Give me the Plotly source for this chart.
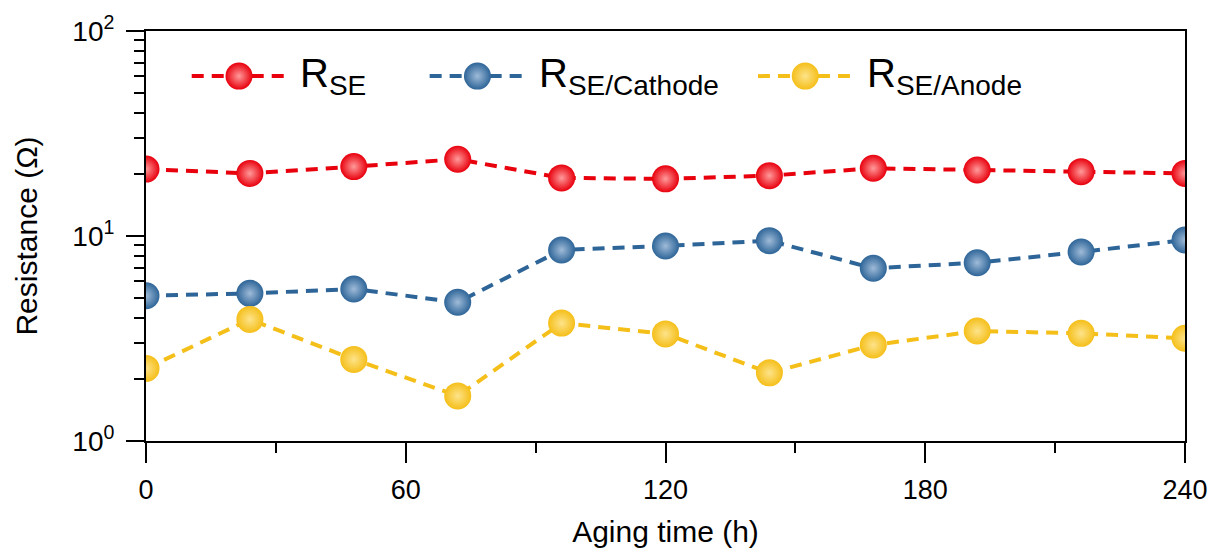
import plotly.graph_objects as go

# ---- data ----
aging_time_h = [0, 24, 48, 72, 96, 120, 144, 168, 192, 216, 240]
r_se = [21.2, 20.2, 21.8, 23.7, 19.2, 19.0, 19.7, 21.4, 21.0, 20.6, 20.2]
r_se_cathode = [5.11, 5.25, 5.51, 4.75, 8.55, 8.94, 9.49, 6.96, 7.41, 8.36, 9.56]
r_se_anode = [2.26, 3.92, 2.50, 1.66, 3.76, 3.33, 2.15, 2.94, 3.44, 3.35, 3.17]

series_names = ["R<sub>SE</sub>", "R<sub>SE/Cathode</sub>", "R<sub>SE/Anode</sub>"]
x_tickvals = [0, 60, 120, 180, 240]
x_ticktext = ["0", "60", "120", "180", "240"]
x_minor = [30, 90, 150, 210]
y_tickvals = [1, 10, 100]
y_ticktext = ["10<sup>0</sup>", "10<sup>1</sup>", "10<sup>2</sup>"]
y_minor = [2, 3, 4, 5, 6, 7, 8, 9, 20, 30, 40, 50, 60, 70, 80, 90]

# ---- styles ----
COLORS = ["#e8000d", "#2e6598", "#f5bf1a"]
HILITE = ["#ff9a9a", "#9fbbd8", "#fde38a"]
FONT = "Arial, Liberation Sans, sans-serif"
MSIZE = 27

# legend key placement (paper fraction) -- layout, not data
LEG_LINE_X = [(0.044, 0.135), (0.273, 0.365), (0.589, 0.680)]
LEG_TEXT_X = [0.146, 0.376, 0.692]
LEG_Y = 0.89

fig = go.Figure()
all_series = [r_se, r_se_cathode, r_se_anode]
for i, ys in enumerate(all_series):
    fig.add_trace(go.Scatter(
        x=aging_time_h, y=ys, mode="lines+markers", showlegend=False,
        line=dict(color=COLORS[i], width=4, dash="12px,8px"),
        marker=dict(size=MSIZE, color=COLORS[i],
                    gradient=dict(type="radial", color=HILITE[i]),
                    line=dict(width=0)),
    ))

# manual legend keys on an overlay axis (0..1)
for i in range(3):
    x0, x1 = LEG_LINE_X[i]
    fig.add_trace(go.Scatter(
        x=[x0, x1], y=[LEG_Y, LEG_Y], mode="lines", showlegend=False,
        xaxis="x2", yaxis="y2", hoverinfo="skip",
        line=dict(color=COLORS[i], width=4, dash="12px,8px"),
    ))
    fig.add_trace(go.Scatter(
        x=[(x0 + x1) / 2], y=[LEG_Y], mode="markers", showlegend=False,
        xaxis="x2", yaxis="y2", hoverinfo="skip",
        marker=dict(size=MSIZE, color=COLORS[i],
                    gradient=dict(type="radial", color=HILITE[i]),
                    line=dict(width=0)),
    ))
    fig.add_annotation(x=LEG_TEXT_X[i], y=LEG_Y, xref="paper", yref="paper",
                       text=series_names[i], showarrow=False, xanchor="left",
                       yanchor="middle", font=dict(size=40, color="black", family=FONT))

fig.update_layout(
    width=1214, height=553,
    margin=dict(l=146, r=29, t=31, b=112),
    paper_bgcolor="white", plot_bgcolor="white",
    font=dict(family=FONT, color="black", size=27),
    xaxis=dict(
        range=[0, 240], tickvals=x_tickvals, ticktext=x_ticktext,
        ticks="outside", ticklen=20, tickwidth=2, tickcolor="black",
        showline=True, linewidth=2, linecolor="black", mirror=True,
        showgrid=False, zeroline=False, automargin=False,
        minor=dict(tickvals=x_minor, ticks="outside", ticklen=10, tickwidth=2, tickcolor="black"),
        tickfont=dict(size=27), ticklabelstandoff=4,
        title=dict(text="Aging time (h)", font=dict(size=30), standoff=17),
    ),
    yaxis=dict(
        type="log", range=[0, 2], tickvals=y_tickvals, ticktext=y_ticktext,
        ticks="outside", ticklen=18, tickwidth=2, tickcolor="black",
        showline=True, linewidth=2, linecolor="black", mirror=True,
        showgrid=False, zeroline=False, automargin=False,
        minor=dict(tickvals=y_minor, ticks="outside", ticklen=10, tickwidth=2, tickcolor="black"),
        tickfont=dict(size=28), ticklabelstandoff=6,
        title=dict(text="Resistance (Ω)", font=dict(size=30), standoff=26),
    ),
    xaxis2=dict(range=[0, 1], overlaying="x", visible=False, fixedrange=True),
    yaxis2=dict(range=[0, 1], overlaying="y", visible=False, fixedrange=True),
)

fig.write_html("out.html")
